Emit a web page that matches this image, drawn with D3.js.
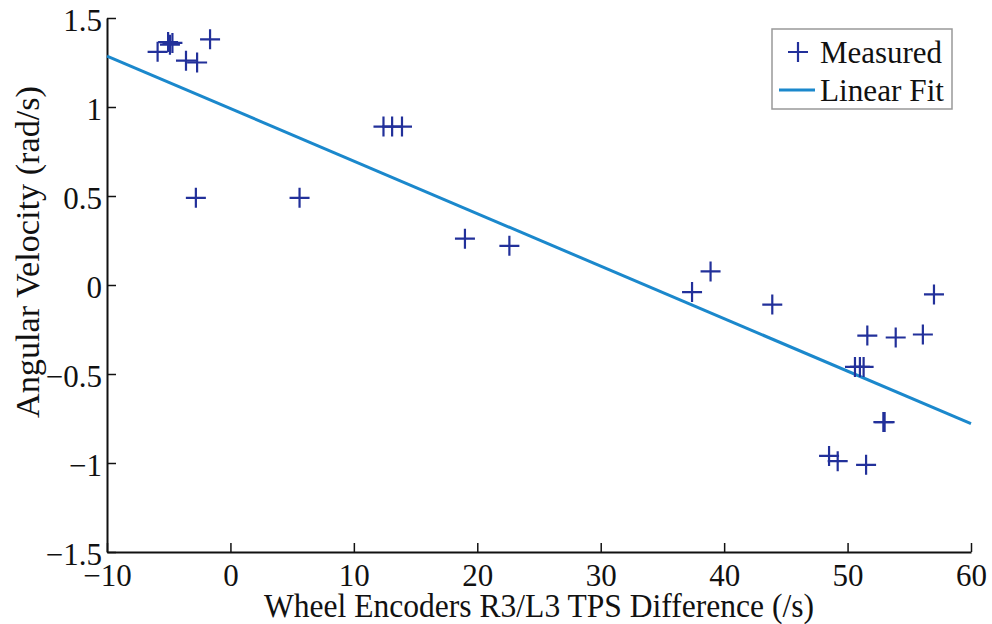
<!DOCTYPE html>
<html>
<head>
<meta charset="utf-8">
<script src="https://cdn.jsdelivr.net/npm/d3@7"></script>
<style>
  body { margin: 0; background: #fff; }
  text { font-family: "Liberation Serif", "Times New Roman", serif; fill: #111; }
</style>
</head>
<body>
<div id="chart"></div>
<script>
// measured points (x: TPS difference, y: angular velocity)
const measuredX = [-5.9, -5.05, -4.7, -4.9, -3.6, -2.7, -1.65, -2.8, 5.6,
                   12.4, 13.1, 13.9, 19.0, 22.6, 37.4, 38.9, 43.9,
                   57.0, 51.6, 53.9, 56.1, 50.6, 51.0, 51.3, 52.9, 53.0,
                   48.5, 49.2, 51.5];
const measuredY = [1.31, 1.365, 1.36, 1.35, 1.26, 1.25, 1.38, 0.49, 0.49,
                   0.89, 0.89, 0.89, 0.26, 0.22, -0.04, 0.076, -0.11,
                   -0.053, -0.284, -0.295, -0.278, -0.46, -0.46, -0.46, -0.77, -0.77,
                   -0.96, -0.99, -1.01];

// linear fit endpoints
const fitX = [-10, 60];
const fitY = [1.286, -0.779];

const xTicks = [-10, 0, 10, 20, 30, 40, 50, 60];
const yTicks = [-1.5, -1, -0.5, 0, 0.5, 1, 1.5];

const width = 992, height = 624;
const margin = {top: 18, right: 21, bottom: 72, left: 107};
const w = width - margin.left - margin.right,
      h = height - margin.top - margin.bottom;

const svg = d3.select("#chart").append("svg")
    .attr("width", width)
    .attr("height", height);

const g = svg.append("g")
    .attr("transform", "translate(" + margin.left + "," + margin.top + ")");

const x = d3.scaleLinear().domain([-10, 60]).range([0, w]);
const y = d3.scaleLinear().domain([-1.5, 1.5]).range([h, 0]);

const fmt = d => (d < 0 ? "\u2212" : "") + Math.abs(d);

// x axis (ticks pointing inward)
const xAxis = g.append("g")
    .attr("transform", "translate(0," + h + ")")
    .call(d3.axisBottom(x).tickValues(xTicks).tickSizeInner(-9).tickSizeOuter(0)
      .tickPadding(6).tickFormat(fmt));
xAxis.select(".domain").attr("stroke", "#111").attr("stroke-width", 2);
xAxis.selectAll(".tick line").attr("stroke", "#111").attr("stroke-width", 1.5);
xAxis.selectAll("text").attr("font-size", 31).attr("fill", "#111")
    .attr("y", 34).attr("dy", 0);

// y axis
const yAxis = g.append("g")
    .call(d3.axisLeft(y).tickValues(yTicks).tickSizeInner(-9).tickSizeOuter(0)
      .tickPadding(5).tickFormat(fmt));
yAxis.select(".domain").attr("stroke", "#111").attr("stroke-width", 2);
yAxis.selectAll(".tick line").attr("stroke", "#111").attr("stroke-width", 1.5);
yAxis.selectAll("text").attr("font-size", 31).attr("fill", "#111")
    .attr("dy", "0.4em");

// fit line
const fitData = fitX.map((d, i) => ({x: d, y: fitY[i]}));
g.append("path")
    .datum(fitData)
    .attr("fill", "none")
    .attr("stroke", "#1b88cc")
    .attr("stroke-width", 3)
    .attr("d", d3.line().x(d => x(d.x)).y(d => y(d.y)));

// measured markers
const pts = measuredX.map((d, i) => ({x: d, y: measuredY[i]}));
const plus = "M-10,0H10M0,-10V10";
g.selectAll(".pt")
    .data(pts)
  .enter().append("path")
    .attr("class", "pt")
    .attr("transform", d => "translate(" + x(d.x) + "," + y(d.y) + ")")
    .attr("d", plus)
    .attr("stroke", "#22309a")
    .attr("stroke-width", 2.2)
    .attr("fill", "none");

// axis titles
svg.append("text")
    .attr("x", margin.left + w / 2)
    .attr("y", 617)
    .attr("text-anchor", "middle")
    .attr("font-size", 33)
    .attr("textLength", 550)
    .attr("lengthAdjust", "spacingAndGlyphs")
    .text("Wheel Encoders R3/L3 TPS Difference (/s)");

svg.append("text")
    .attr("transform", "translate(39,252) rotate(-90)")
    .attr("text-anchor", "middle")
    .attr("font-size", 34)
    .attr("textLength", 332)
    .attr("lengthAdjust", "spacingAndGlyphs")
    .text("Angular Velocity (rad/s)");

// legend
const leg = svg.append("g").attr("transform", "translate(772,29)");
leg.append("rect")
    .attr("width", 180).attr("height", 80)
    .attr("fill", "#fff").attr("stroke", "#999").attr("stroke-width", 1.5);
leg.append("path")
    .attr("transform", "translate(26,23)")
    .attr("d", plus)
    .attr("stroke", "#22309a").attr("stroke-width", 2.2);
leg.append("text").attr("x", 48).attr("y", 34).attr("font-size", 32)
    .attr("textLength", 122).attr("lengthAdjust", "spacingAndGlyphs")
    .text("Measured");
leg.append("line")
    .attr("x1", 7).attr("x2", 43).attr("y1", 61).attr("y2", 61)
    .attr("stroke", "#1b88cc").attr("stroke-width", 3);
leg.append("text").attr("x", 48).attr("y", 72).attr("font-size", 32)
    .attr("textLength", 124).attr("lengthAdjust", "spacingAndGlyphs")
    .text("Linear Fit");
</script>
</body>
</html>
